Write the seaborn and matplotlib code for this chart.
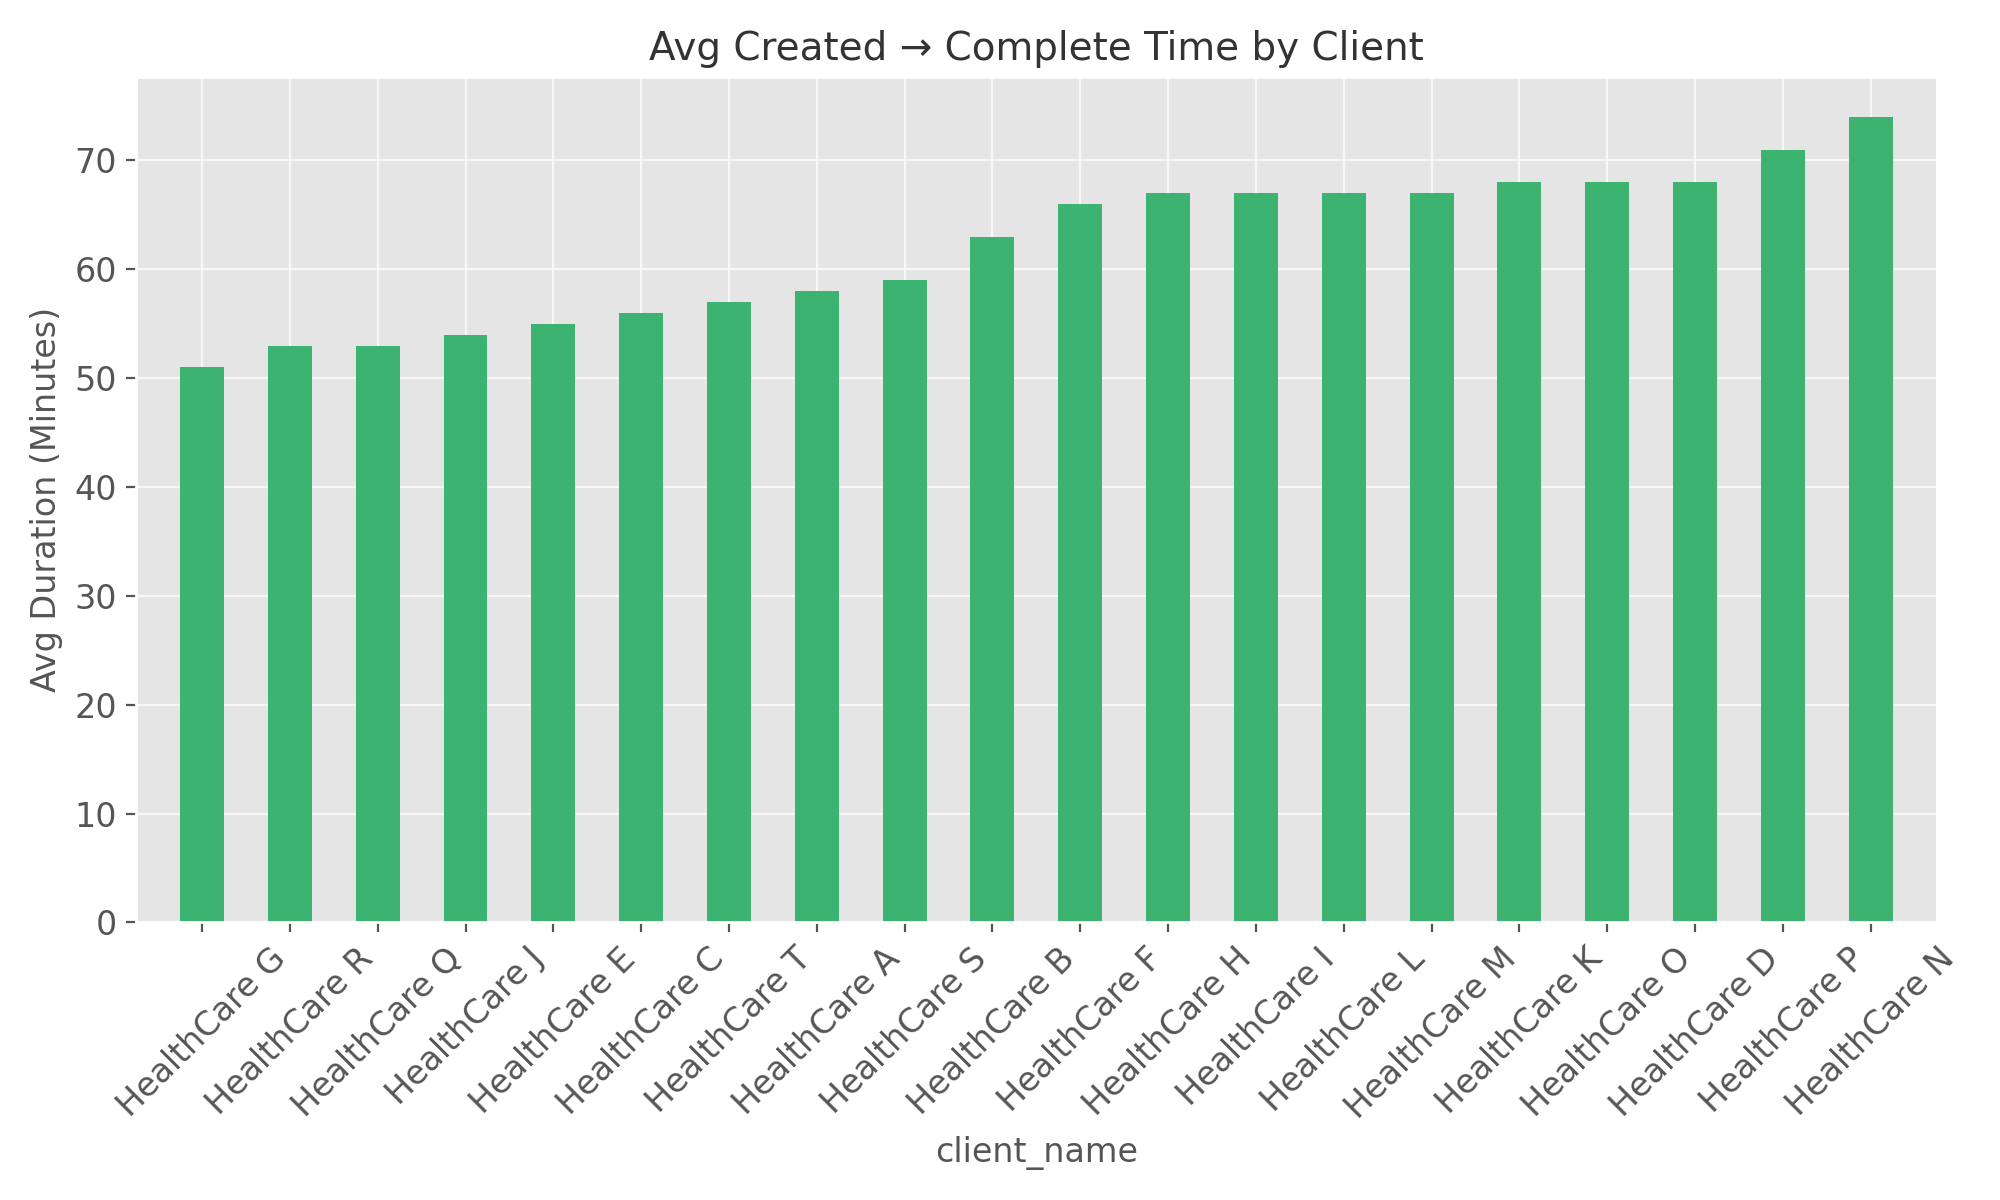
import pandas as pd
import seaborn as sns
import matplotlib.pyplot as plt

clients = ["HealthCare G", "HealthCare R", "HealthCare Q", "HealthCare J", "HealthCare E",
           "HealthCare C", "HealthCare T", "HealthCare A", "HealthCare S", "HealthCare B",
           "HealthCare F", "HealthCare H", "HealthCare I", "HealthCare L", "HealthCare M",
           "HealthCare K", "HealthCare O", "HealthCare D", "HealthCare P", "HealthCare N"]
avg_minutes = [51, 53, 53, 54, 55, 56, 57, 58, 59, 63, 66, 67, 67, 67, 67, 68, 68, 68, 71, 74]

df = pd.DataFrame({"client_name": clients, "avg": avg_minutes})

plt.style.use("ggplot")
fig, ax = plt.subplots(figsize=(10, 6), dpi=200)
sns.barplot(data=df, x="client_name", y="avg", color="mediumseagreen", width=0.5,
            saturation=1, ax=ax)
ax.grid(True, axis="both", color="white", linewidth=0.8, alpha=0.7)
ax.set_axisbelow(True)
ax.set_title("Avg Created \u2192 Complete Time by Client", color="#333333", fontsize=14)
ax.set_ylabel("Avg Duration (Minutes)", color="#555555", fontsize=12)
ax.set_xlabel("client_name", color="#555555", fontsize=12)
ax.set_xlim(-0.75, len(clients) - 0.25)
ax.tick_params(axis="both", labelsize=12)
plt.xticks(rotation=45, ha="center")
plt.tight_layout()
plt.savefig("out.png")
